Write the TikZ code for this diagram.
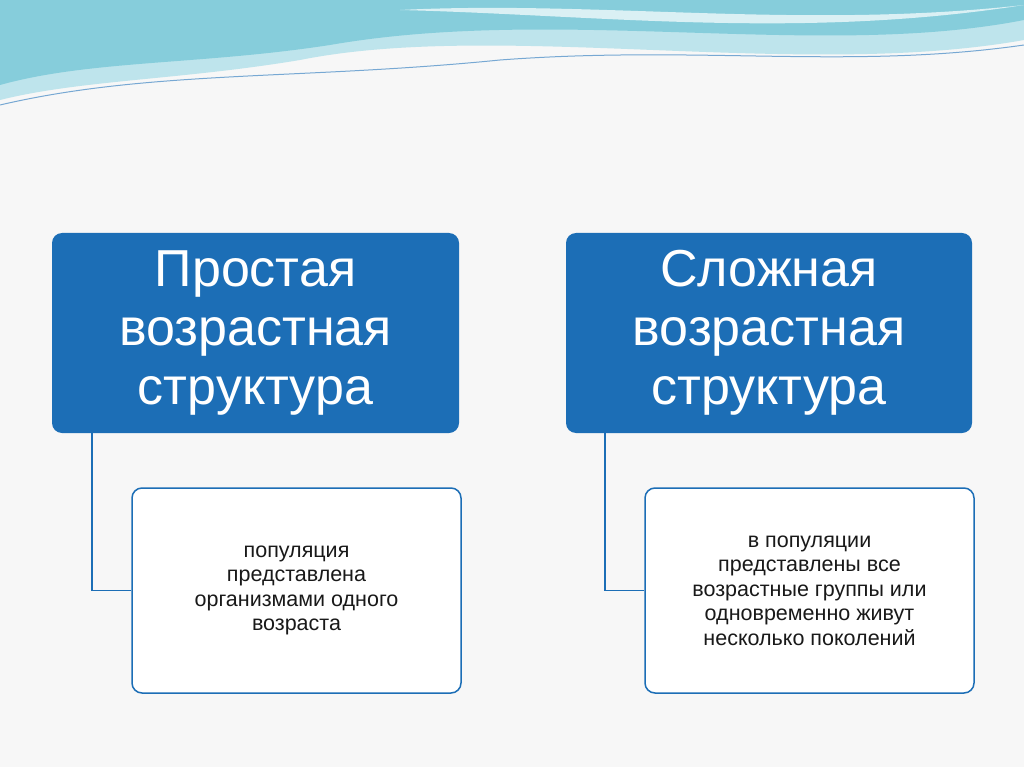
\documentclass[tikz,border=0pt]{standalone}
\usepackage{fontspec}
\setmainfont{Liberation Sans}
\definecolor{boxblue}{RGB}{28,110,182}
\definecolor{wave}{RGB}{120,200,215}
\definecolor{wavelite}{RGB}{190,228,236}
\tikzset{
  headbox/.style={draw=none, fill=boxblue, rounded corners=10pt, text=white,
    font=\fontsize{52}{59}\selectfont, align=center},
  notebox/.style={draw=boxblue, line width=1.5pt, fill=white, rounded corners=10pt,
    text=black!90, font=\fontsize{21.5}{24.5}\selectfont, align=center},
  link/.style={draw=boxblue, line width=1.5pt}
}
\begin{document}
\begin{tikzpicture}[x=1pt, y=-1pt]
    \fill[black!3] (0,0) rectangle (1024,767);
    \useasboundingbox (0,0) rectangle (1024,767);
    % waves at the top
    \fill[wavelite] (0,0) -- (1024,0) -- (1024,40) .. controls (800,80) and (500,20) .. (300,60)
      .. controls (180,80) and (80,80) .. (0,100) -- cycle;
    \fill[wave, opacity=0.8] (0,0) -- (1024,0) -- (1024,20) .. controls (820,60) and (560,5) .. (330,45)
      .. controls (200,65) and (90,60) .. (0,85) -- cycle;
    \fill[white, opacity=0.7] (400,10) .. controls (600,0) and (800,30) .. (1024,5)
      .. controls (800,40) and (600,15) .. (400,10) -- cycle;
    \draw[boxblue!60, line width=1pt] (0,105) .. controls (150,70) and (300,80) .. (500,60)
      .. controls (700,45) and (850,70) .. (1024,45);
    % boxes
    \node[headbox, minimum width=407pt, minimum height=200pt] (simple) at (255.5,333)
      {Простая\\возрастная\\структура};
    \node[headbox, minimum width=406pt, minimum height=200pt] (complex) at (769,333)
      {Сложная\\возрастная\\структура};
    \node[notebox, minimum width=329pt, minimum height=205pt] (simplenote) at (296.5,590.5)
      {популяция\\представлена\\организмами одного\\возраста};
    \node[notebox, minimum width=329pt, minimum height=205pt] (complexnote) at (809.5,590.5)
      {в популяции\\представлены все\\возрастные группы или\\одновременно живут\\несколько поколений};
    % connectors
    \draw[link] (simple.south west) ++(40,0) |- (simplenote.west);
    \draw[link] (complex.south west) ++(39,0) |- (complexnote.west);
\end{tikzpicture}
\end{document}
